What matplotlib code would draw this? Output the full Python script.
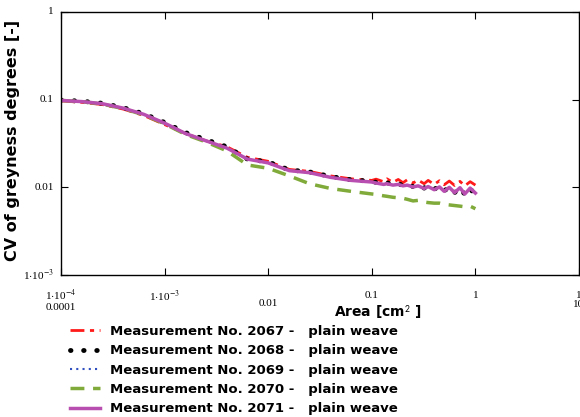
import matplotlib
matplotlib.use('Agg')
import matplotlib.pyplot as plt
from matplotlib.transforms import blended_transform_factory

# Area values [cm^2]
area = [0.0001, 0.00016, 0.00025, 0.0004, 0.00063, 0.001, 0.0016, 0.0025, 0.004, 0.0063,
        0.01, 0.016, 0.025, 0.04, 0.063, 0.1, 0.11, 0.13, 0.14, 0.16,
        0.18, 0.2, 0.22, 0.25, 0.28, 0.32, 0.35, 0.4, 0.45, 0.5,
        0.56, 0.63, 0.71, 0.79, 0.89, 1.0]

# CV of greyness degrees for each measurement
cv_2067 = [0.097, 0.093, 0.088, 0.078, 0.066, 0.052, 0.041, 0.034, 0.029, 0.022,
           0.0198, 0.016, 0.0152, 0.0135, 0.0125, 0.0120, 0.0124, 0.0116, 0.0125, 0.0114,
           0.0123, 0.0113, 0.0122, 0.0112, 0.0121, 0.0110, 0.0120, 0.0108, 0.0119, 0.0107,
           0.0118, 0.0105, 0.0117, 0.0104, 0.0116, 0.0106]
cv_2068 = [0.099, 0.096, 0.091, 0.081, 0.069, 0.055, 0.042, 0.035, 0.029, 0.021,
           0.0195, 0.0158, 0.015, 0.0133, 0.0122, 0.0117, 0.0114, 0.0110, 0.0113, 0.0107,
           0.0111, 0.0104, 0.0109, 0.0102, 0.0107, 0.0098, 0.0105, 0.0095, 0.0103, 0.0091,
           0.0101, 0.0087, 0.0099, 0.0083, 0.0098, 0.0079]
cv_2069 = [0.098, 0.095, 0.090, 0.080, 0.068, 0.054, 0.041, 0.034, 0.028, 0.021,
           0.019, 0.0155, 0.0147, 0.013, 0.012, 0.0115, 0.0112, 0.0108, 0.0110, 0.0106,
           0.0108, 0.0104, 0.0106, 0.0101, 0.0104, 0.0097, 0.0102, 0.0094, 0.0101, 0.0090,
           0.0100, 0.0087, 0.0099, 0.0084, 0.0098, 0.0086]
cv_2070 = [0.098, 0.095, 0.089, 0.079, 0.067, 0.053, 0.040, 0.033, 0.026, 0.018,
           0.0165, 0.0135, 0.0110, 0.0097, 0.0090, 0.0084, 0.0083, 0.0080, 0.0079, 0.0077,
           0.0076, 0.0075, 0.0073, 0.0070, 0.0071, 0.0068, 0.0067, 0.0066, 0.0066, 0.0064,
           0.0063, 0.0062, 0.0061, 0.0060, 0.0061, 0.0057]
cv_2071 = [0.098, 0.095, 0.090, 0.080, 0.068, 0.054, 0.041, 0.034, 0.028, 0.021,
           0.019, 0.0155, 0.0147, 0.013, 0.012, 0.0115, 0.0112, 0.0108, 0.0110, 0.0106,
           0.0108, 0.0104, 0.0106, 0.0101, 0.0104, 0.0097, 0.0102, 0.0094, 0.0101, 0.0090,
           0.0100, 0.0087, 0.0099, 0.0084, 0.0098, 0.0086]

labels = ['Measurement No. 2067 -   plain weave',
          'Measurement No. 2068 -   plain weave',
          'Measurement No. 2069 -   plain weave',
          'Measurement No. 2070 -   plain weave',
          'Measurement No. 2071 -   plain weave']

xticks = [0.0001, 0.001, 0.01, 0.1, 1, 10]
xticklabels = ['1$\\cdot$10$^{-4}$\n0.0001', '1$\\cdot$10$^{-3}$', '0.01', '0.1', '1', '1\n10']
yticks = [0.001, 0.01, 0.1, 1]
yticklabels = ['1$\\cdot$10$^{-3}$', '0.01', '0.1', '1']

plt.rcParams['mathtext.fontset'] = 'stix'
serif = 'Liberation Serif'

fig = plt.figure(figsize=(5.8, 4.17), dpi=100)
ax = fig.add_axes([61/580, 1-275/417, 518/580, 263/417])

ax.plot(area, cv_2067, color='#ff1a1a', lw=2, linestyle=(0, (5, 2, 1.5, 2)), label=labels[0])
ax.plot(area, cv_2068, color='black', lw=3.5, linestyle=(0, (0.1, 2.6)),
        dash_capstyle='round', label=labels[1])
ax.plot(area, cv_2069, color='#3050c0', lw=1.5, linestyle=(0, (1, 2)), label=labels[2])
ax.plot(area, cv_2070, color='#80aa3a', lw=2.5, linestyle=(0, (4, 2.5)), label=labels[3])
ax.plot(area, cv_2071, color='#b84fb0', lw=2.5, label=labels[4])

ax.set_xscale('log')
ax.set_yscale('log')
ax.set_xlim(0.0001, 10)
ax.set_ylim(0.001, 1)
ax.minorticks_off()
ax.set_xticks(xticks)
ax.set_xticklabels([])
ax.set_yticks(yticks)
ax.set_yticklabels([])
ax.tick_params(direction='in', length=5, top=True, right=True)
for s in ax.spines.values():
    s.set_linewidth(1)

# tick labels, placed like the original (Mathcad style)
trx = blended_transform_factory(ax.transData, fig.transFigure)
xlab_y = [1-300/417, 1-296/417, 1-304/417, 1-296/417, 1-296/417, 1-300/417]
for xv, lab, yy in zip(xticks, xticklabels, xlab_y):
    ax.text(xv, yy, lab, transform=trx, ha='center', va='center', fontsize=8,
            family=serif, linespacing=0.95, clip_on=False)
tr_y = blended_transform_factory(fig.transFigure, ax.transData)
for yv, lab in zip(yticks, yticklabels):
    ax.text(54/580, yv, lab, transform=tr_y, ha='right', va='center', fontsize=8,
            family=serif, clip_on=False)

fig.text(378/580, 1-312/417, 'Area [cm$^{\\mathsf{2}}$ ]', fontsize=10, fontweight='bold',
         ha='center', va='center')
fig.text(13/580, 1-140/417, 'CV of greyness degrees [-]', fontsize=11.5, fontweight='bold',
         rotation=90, ha='center', va='center')

fig.legend(loc='upper left', bbox_to_anchor=(70/580, 1-325/417), frameon=False,
           handlelength=2.3, handletextpad=0.75, labelspacing=0.48,
           prop={'weight': 'bold', 'size': 9.5}, borderaxespad=0, borderpad=0)

fig.savefig('out.png', dpi=100)
